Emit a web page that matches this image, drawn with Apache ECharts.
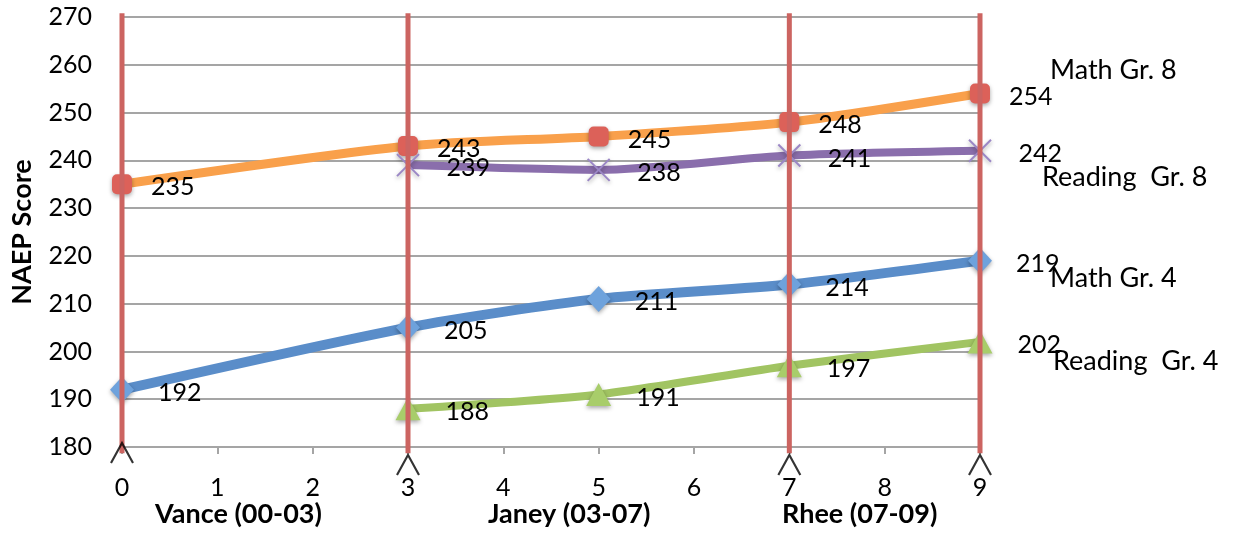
<!DOCTYPE html>
<html>
<head>
<meta charset="utf-8">
<script src="https://cdn.jsdelivr.net/npm/echarts@6/dist/echarts.min.js"></script>
<style>
  html, body { margin: 0; padding: 0; background: #fff; }
  #chart { width: 1233px; height: 535px; }
</style>
</head>
<body>
<div id="chart"></div>
<script>
// NAEP scores for DC by school year, grouped by chancellor term
const mathYears = [0, 3, 5, 7, 9];
const readingYears = [3, 5, 7, 9];
const mathGr8 = [235, 243, 245, 248, 254];
const readingGr8 = [239, 238, 241, 242];
const mathGr4 = [192, 205, 211, 214, 219];
const readingGr4 = [188, 191, 197, 202];
const termBoundaries = [0, 3, 7, 9];
const termNames = ['Vance (00-03)', 'Janey (03-07)', 'Rhee (07-09)'];
const seriesNames = ['Math Gr. 8', 'Reading  Gr. 8', 'Math Gr. 4', 'Reading  Gr. 4'];
const yMin = 180, yMax = 270, yStep = 10;
const xMin = 0, xMax = 9, xStep = 1;

const FONT = 'Lato';
const pair = (xs, ys) => xs.map((x, i) => [x, ys[i]]);

const markerShadow = { shadowBlur: 4, shadowColor: 'rgba(0,0,0,0.35)', shadowOffsetY: 2 };

function scoreSeries(name, xs, ys, lineColor, lineWidth, symbol, symbolSize, itemStyle, labelDist) {
  return {
    name, type: 'line', data: pair(xs, ys), smooth: 0.25,
    lineStyle: { color: lineColor, width: lineWidth },
    symbol, symbolSize, showSymbol: true,
    itemStyle: Object.assign({}, markerShadow, itemStyle),
    label: {
      show: true, position: 'right', distance: labelDist, offset: [0, 3],
      color: '#000', fontFamily: FONT, fontSize: 25,
      formatter: p => String(p.value[1])
    },
    z: 3, animation: false
  };
}

const chart = echarts.init(document.getElementById('chart'), null, { renderer: 'canvas' });

const series = [
  scoreSeries(seriesNames[0], mathYears, mathGr8, '#f9a04b', 9, 'roundRect', 20,
    { color: '#dc6159' }, 19),
  scoreSeries(seriesNames[1], readingYears, readingGr8, '#8a6eac', 8,
    'path://M0,0L20,20M20,0L0,20', 22,
    { color: 'none', borderColor: '#9b87c6', borderWidth: 2 }, 25),
  scoreSeries(seriesNames[2], mathYears, mathGr4, '#5a8dc9', 10, 'diamond', [24, 26],
    { color: '#6ea2dc' }, 24),
  scoreSeries(seriesNames[3], readingYears, readingGr4, '#a1c462', 8, 'triangle', [25, 23],
    { color: '#a8cd6a' }, 25)
];

// Red dividers marking the start and end of each chancellor term
termBoundaries.forEach(x => {
  series.push({
    type: 'line', data: [[x, yMin - 1.3], [x, yMax + 0.8]],
    symbol: 'none', clip: false, silent: true,
    lineStyle: { color: '#cc6461', width: 5 },
    z: 5, animation: false
  });
});

// Caret marks under each divider
series.push({
  type: 'scatter',
  data: termBoundaries.map((x, i) => ({ value: [x, yMin], symbolOffset: [0, i === 0 ? 6 : 18] })),
  symbol: 'path://M0,20L11,0L22,20', symbolSize: [22, 20],
  symbolKeepAspect: false, clip: false, silent: true,
  itemStyle: { color: 'none', borderColor: '#000', borderWidth: 2 },
  z: 6, animation: false
});

const sideLabel = (text, left, top) => ({
  type: 'text', left, top,
  style: { text, fill: '#000', font: `27px ${FONT}` }
});
const termLabel = (text, left) => ({
  type: 'text', left, top: 501,
  style: { text, fill: '#000', font: `bold 27px ${FONT}` }
});

chart.setOption({
  backgroundColor: '#fff',
  animation: false,
  grid: { left: 122, right: 253, top: 17, bottom: 88, containLabel: false },
  xAxis: {
    type: 'value', min: xMin, max: xMax, interval: xStep,
    axisLine: { show: true, lineStyle: { color: '#a5a5a5', width: 2 } },
    axisTick: { show: true, length: 7, lineStyle: { color: '#a5a5a5', width: 2 } },
    axisLabel: { color: '#000', fontFamily: FONT, fontSize: 25, margin: 28 },
    splitLine: { show: false }
  },
  yAxis: {
    type: 'value', min: yMin, max: yMax, interval: yStep,
    name: 'NAEP Score', nameLocation: 'middle', nameGap: 86, nameRotate: 90,
    nameTextStyle: { color: '#000', fontFamily: FONT, fontSize: 27, fontWeight: 'bold' },
    axisLine: { show: false }, axisTick: { show: false },
    axisLabel: { color: '#000', fontFamily: FONT, fontSize: 25, margin: 30 },
    splitLine: { show: true, lineStyle: { color: '#a5a5a5', width: 2 } }
  },
  series,
  graphic: [
    sideLabel(seriesNames[0], 1050, 57),
    sideLabel(seriesNames[1], 1042, 164),
    sideLabel(seriesNames[2], 1050, 265),
    sideLabel(seriesNames[3], 1053, 348),
    termLabel(termNames[0], 155),
    termLabel(termNames[1], 488),
    termLabel(termNames[2], 782)
  ]
});
</script>
</body>
</html>
